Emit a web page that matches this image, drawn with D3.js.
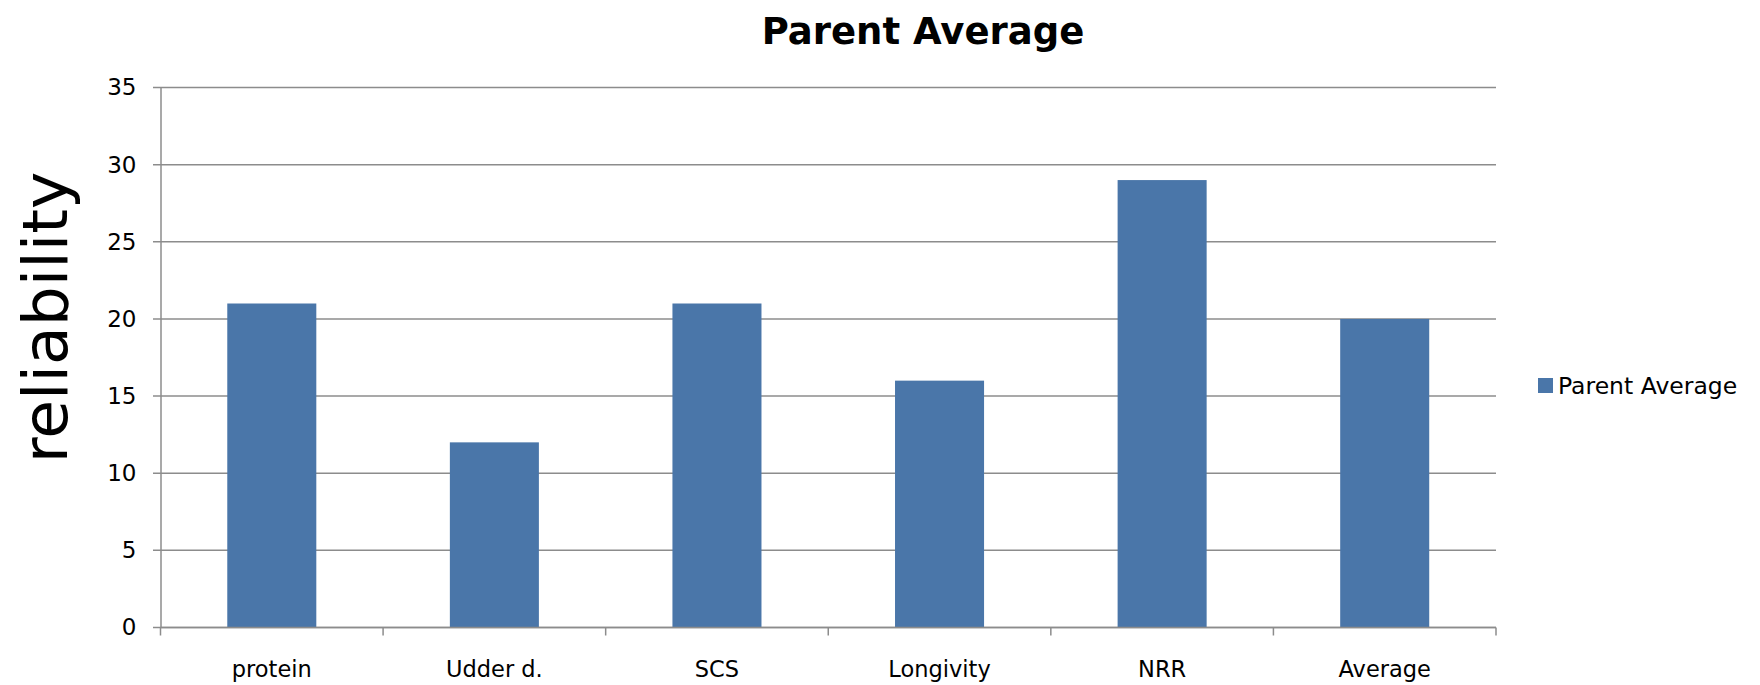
<!DOCTYPE html>
<html>
<head>
<meta charset="utf-8">
<script src="https://cdn.jsdelivr.net/npm/d3@7"></script>
<style>
  html, body { margin: 0; padding: 0; background: #fff; }
  svg { display: block; }
  text { font-family: "DejaVu Sans", "Lato", sans-serif; fill: #000; }
</style>
</head>
<body>
<svg id="chart" width="1760" height="685"></svg>
<script>
// Reliability of parent-average predictions per trait
const categories = ["protein", "Udder d.", "SCS", "Longivity", "NRR", "Average"];
const reliability = [21, 12, 21, 16, 29, 20];
const yTicks = [0, 5, 10, 15, 20, 25, 30, 35];
const seriesName = "Parent Average";

const svg = d3.select("#chart");
const margin = { left: 160.5, right: 1496, top: 87.5, bottom: 627.5 };
const barColor = "#4a76a9";
const gridColor = "#8c8c8c";

const x = d3.scaleBand()
  .domain(categories)
  .range([margin.left, margin.right])
  .paddingInner(0.6)
  .paddingOuter(0.3);

const y = d3.scaleLinear()
  .domain([0, 35])
  .range([margin.bottom, margin.top]);

// Horizontal gridlines
svg.append("g")
  .selectAll("line")
  .data(yTicks)
  .join("line")
  .attr("x1", margin.left - 7.5)
  .attr("x2", margin.right)
  .attr("y1", d => y(d))
  .attr("y2", d => y(d))
  .attr("stroke", gridColor)
  .attr("stroke-width", 1.5);

// Y axis
const yAxis = svg.append("g")
  .attr("transform", `translate(${margin.left},0)`)
  .call(d3.axisLeft(y).tickValues(yTicks).tickSize(0).tickPadding(24));
yAxis.select(".domain").attr("stroke", gridColor).attr("stroke-width", 1.5);
yAxis.selectAll("text").style("font-size", "23px").attr("fill", "#000");

// Bars
svg.append("g")
  .selectAll("rect")
  .data(categories.map((c, i) => ({ c, v: reliability[i] })))
  .join("rect")
  .attr("x", d => x(d.c))
  .attr("width", x.bandwidth())
  .attr("y", d => y(d.v))
  .attr("height", d => y(0) - y(d.v))
  .attr("fill", barColor);

// X axis with category boundary ticks
const step = x.step();
const boundaries = d3.range(categories.length + 1).map(i => margin.left + i * step);
const xAxis = svg.append("g");
xAxis.append("line")
  .attr("x1", margin.left).attr("x2", margin.right)
  .attr("y1", y(0)).attr("y2", y(0))
  .attr("stroke", gridColor).attr("stroke-width", 1.5);
xAxis.selectAll("line.tick")
  .data(boundaries)
  .join("line")
  .attr("class", "tick")
  .attr("x1", d => d).attr("x2", d => d)
  .attr("y1", y(0)).attr("y2", y(0) + 8)
  .attr("stroke", gridColor).attr("stroke-width", 1.5);
xAxis.selectAll("text")
  .data(categories)
  .join("text")
  .attr("x", d => x(d) + x.bandwidth() / 2)
  .attr("y", y(0) + 49)
  .attr("text-anchor", "middle")
  .style("font-size", "22.5px")
  .text(d => d);

// Title
svg.append("text")
  .attr("x", 923)
  .attr("y", 44)
  .attr("text-anchor", "middle")
  .style("font-size", "37px")
  .style("font-weight", "bold")
  .text(seriesName);

// Y axis label
svg.append("text")
  .attr("transform", `translate(67,${(margin.top + margin.bottom) / 2 - 40}) rotate(-90)`)
  .attr("text-anchor", "middle")
  .style("font-size", "63px")
  .text("reliability");

// Legend
const legend = svg.append("g").attr("transform", "translate(1538,378)");
legend.append("rect").attr("width", 15).attr("height", 15).attr("fill", barColor);
legend.append("text")
  .attr("x", 20).attr("y", 16)
  .style("font-size", "23.5px")
  .text(seriesName);
</script>
</body>
</html>
